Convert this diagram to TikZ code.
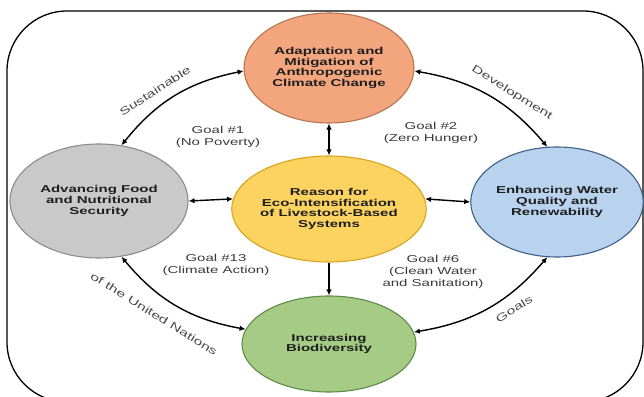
\documentclass[tikz,border=0pt]{standalone}
\usepackage{fontspec}
\setmainfont{Liberation Sans}[FakeStretch=1.5]
\usetikzlibrary{shapes.geometric,arrows.meta}
\definecolor{orfill}{HTML}{F3A67E}
\definecolor{ordraw}{HTML}{B8754E}
\definecolor{grfill}{HTML}{C9C9C9}
\definecolor{grdraw}{HTML}{8C8C8C}
\definecolor{yefill}{HTML}{FCD261}
\definecolor{yedraw}{HTML}{D9A520}
\definecolor{blfill}{HTML}{B9D3EE}
\definecolor{bldraw}{HTML}{3E5F8A}
\definecolor{gnfill}{HTML}{A5CB84}
\definecolor{gndraw}{HTML}{5F8C45}
\definecolor{txt}{HTML}{1E1E1E}
\definecolor{goaltxt}{HTML}{3A3A3A}
\definecolor{arctxt}{HTML}{4A4A4A}
\begin{document}
\begin{tikzpicture}[x=1pt,y=1pt,
  blob/.style={ellipse, draw, line width=1.1pt, inner sep=0pt, align=center,
    font=\bfseries\fontsize{10}{10.8}\selectfont, text=txt},
  link/.style={line width=1.4pt, {Latex[length=6pt,width=5.5pt]}-{Latex[length=6pt,width=5.5pt]}},
  onelink/.style={line width=1.4pt, -{Latex[length=6pt,width=5.5pt]}},
  goal/.style={align=center, font=\fontsize{10}{12}\selectfont, text=goaltxt},
  arclab/.style={font=\fontsize{10.5}{12}\selectfont, text=arctxt, inner sep=1pt}]
\useasboundingbox (0,0) rectangle (644,396);
\draw[line width=1.3pt, rounded corners=60pt] (7,-6) rectangle (643,385);

\node[blob, fill=orfill, draw=ordraw, minimum width=170pt, minimum height=110pt] (adapt) at (329,328)
  {Adaptation and\\Mitigation of\\Anthropogenic\\Climate Change};
\node[blob, fill=grfill, draw=grdraw, minimum width=178pt, minimum height=114pt] (food) at (99,195)
  {Advancing Food\\and Nutritional\\Security};
\node[blob, fill=yefill, draw=yedraw, minimum width=164pt, minimum height=106pt] (reason) at (329,187)
  {Reason for\\Eco-Intensification\\of Livestock-Based\\Systems};
\node[blob, fill=blfill, draw=bldraw, minimum width=172pt, minimum height=110pt] (water) at (557,194)
  {Enhancing Water\\Quality and\\Renewability};
\node[blob, fill=gnfill, draw=gndraw, minimum width=174pt, minimum height=96pt] (bio) at (329,52)
  {Increasing\\Biodiversity};

\draw[link] (adapt.south) -- (reason.north);
\draw[onelink] (reason.south) -- (bio.north);
\draw[link] (food.east) -- (reason.174);
\draw[link] (reason.6) -- (water.west);

\draw[link] (food.68) to[bend left=20] (adapt.182);
\draw[link] (adapt.358) to[bend left=20] (water.100);
\draw[link] (water.260) to[bend left=20] (bio.8);
\draw[link] (bio.170) to[bend left=20] (food.292);

\node[arclab, rotate=33] (lsus) at (155,305) {Sustainable};
\node[arclab, rotate=-32] (ldev) at (512,303) {Development};
\node[arclab, rotate=-32] (lun) at (154,82) {of the United Nations};
\node[arclab, rotate=32] (lgoals) at (514,87) {Goals};

\node[goal] (g1) at (218,259) {Goal \#1\\(No Poverty)};
\node[goal] (g2) at (431,263) {Goal \#2\\(Zero Hunger)};
\node[goal] (g13) at (216,131) {Goal \#13\\(Climate Action)};
\node[goal] (g6) at (433,124) {Goal \#6\\(Clean Water\\and Sanitation)};
\end{tikzpicture}
\end{document}
